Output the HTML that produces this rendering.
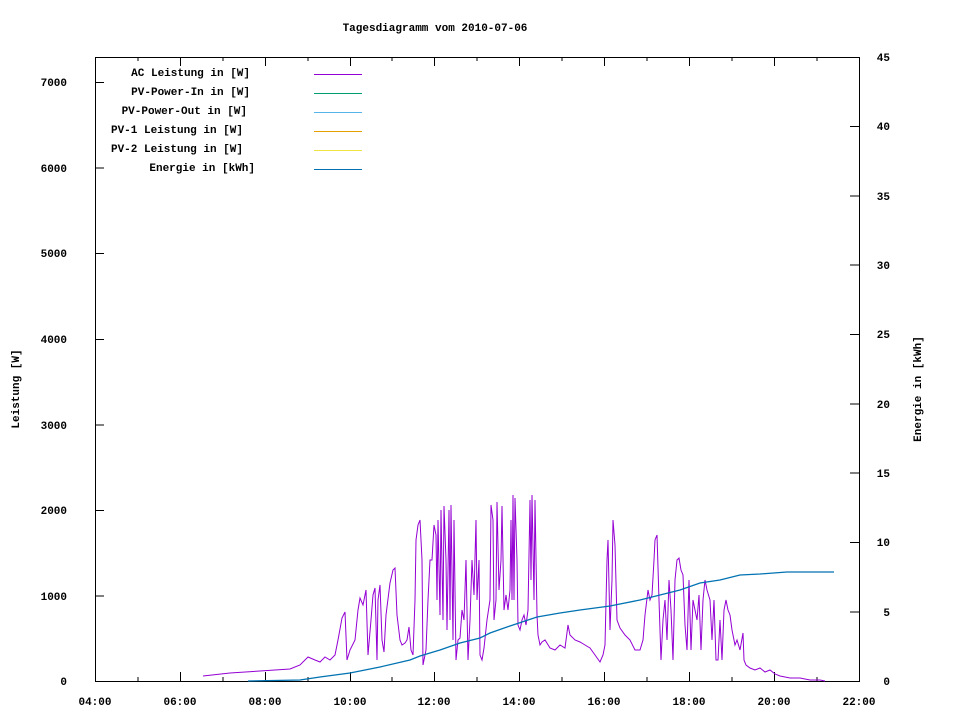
<!DOCTYPE html>
<html><head><meta charset="utf-8"><style>
body{margin:0;background:#fff;}
svg text{font-family:"Liberation Mono",monospace;font-size:11px;font-weight:bold;fill:#000;}
</style></head><body>
<svg width="960" height="720" xmlns="http://www.w3.org/2000/svg">
<rect width="960" height="720" fill="#fff"/>
<text x="435" y="31" text-anchor="middle">Tagesdiagramm vom 2010-07-06</text>
<rect x="95.5" y="57.5" width="764" height="624" fill="none" stroke="#000" stroke-width="1"/>
<g stroke="#000" stroke-width="1" id="ticks">
<path d="M95,681.5h9M95,596h9M95,510.5h9M95,425h9M95,339.5h9M95,253.5h9M95,168h9M95,82.5h9"/>
<path d="M859,681.5h-9M859,612h-9M859,542.5h-9M859,473h-9M859,404h-9M859,334.5h-9M859,265h-9M859,196h-9M859,126.5h-9M859,57.5h-9"/>
<path d="M95.5,681v-9M180.5,681v-9M265.5,681v-9M350.5,681v-9M434.5,681v-9M519.5,681v-9M604.5,681v-9M689.5,681v-9M774.5,681v-9M859.5,681v-9"/>
<path d="M138,681v-4M223,681v-4M308,681v-4M392,681v-4M477,681v-4M562,681v-4M647,681v-4M732,681v-4M817,681v-4"/>
<path d="M95.5,57v9M180.5,57v9M265.5,57v9M350.5,57v9M434.5,57v9M519.5,57v9M604.5,57v9M689.5,57v9M774.5,57v9M859.5,57v9"/>
<path d="M138,57v4M223,57v4M308,57v4M392,57v4M477,57v4M562,57v4M647,57v4M732,57v4M817,57v4"/>
</g>
<g text-anchor="end">
<text x="67" y="685">0</text><text x="67" y="600">1000</text><text x="67" y="514">2000</text><text x="67" y="429">3000</text><text x="67" y="343">4000</text><text x="67" y="257">5000</text><text x="67" y="172">6000</text><text x="67" y="86">7000</text>
</g>
<g text-anchor="end">
<text x="890" y="685">0</text><text x="890" y="616">5</text><text x="890" y="546">10</text><text x="890" y="477">15</text><text x="890" y="408">20</text><text x="890" y="338">25</text><text x="890" y="269">30</text><text x="890" y="200">35</text><text x="890" y="130">40</text><text x="890" y="61">45</text>
</g>
<g text-anchor="middle">
<text x="95" y="705">04:00</text><text x="180" y="705">06:00</text><text x="265" y="705">08:00</text><text x="350" y="705">10:00</text><text x="434" y="705">12:00</text><text x="519" y="705">14:00</text><text x="604" y="705">16:00</text><text x="689" y="705">18:00</text><text x="774" y="705">20:00</text><text x="859" y="705">22:00</text>
</g>
<text transform="translate(19,389) rotate(-90)" text-anchor="middle">Leistung [W]</text>
<text transform="translate(921,389) rotate(-90)" text-anchor="middle">Energie in [kWh]</text>
<g text-anchor="end">
<text x="250" y="76">AC Leistung in [W]</text>
<text x="250" y="95">PV-Power-In in [W]</text>
<text x="247" y="114">PV-Power-Out in [W]</text>
<text x="243" y="133">PV-1 Leistung in [W]</text>
<text x="243" y="152">PV-2 Leistung in [W]</text>
<text x="255" y="171">Energie in [kWh]</text>
</g>
<g stroke-width="1">
<path d="M314,74.5h48" stroke="#9400d3"/>
<path d="M314,93.5h48" stroke="#009e73"/>
<path d="M314,112.5h48" stroke="#56b4e9"/>
<path d="M314,131.5h48" stroke="#e69f00"/>
<path d="M314,150.5h48" stroke="#f0e442"/>
<path d="M314,169.5h48" stroke="#0072b2"/>
</g>
<polyline fill="none" stroke="#9400d3" stroke-width="1" points="203,676 230,673 260,671 290,669 300,665 308,657 315,660 320,662 325,657 330,660 335,655 338,640 342,618 345,612 347,660 350,650 355,640 358,610 360,598 363,605 366,590 368,655 371,620 373,595 375,588 377,660 378,600 380,585 382,640 384,652 386,615 390,583 393,570 395,568 397,615 400,640 402,645 405,643 407,640 409,627 411,650 413,655 415,600 416,540 418,525 420,520 422,560 423,665 426,650 428,600 430,560 432,560 434,525 436,535 437,600 438,520 440,615 441,510 443,620 444,506 446,560 447,630 449,510 450,620 451,505 453,640 454,520 456,660 458,640 460,638 462,610 464,620 466,560 468,660 470,620 472,560 474,595 476,520 477,600 479,560 480,655 482,660 484,648 487,620 490,600 491,505 493,520 494,620 496,600 497,502 499,590 501,560 502,506 504,610 506,595 508,610 510,590 511,520 512,600 513,495 514,600 515,498 517,560 518,625 520,630 522,620 524,615 526,625 528,610 530,500 531,580 532,495 534,600 535,500 537,615 538,635 540,645 542,642 545,640 550,648 555,650 560,645 565,648 568,625 570,635 575,640 580,642 585,645 590,648 595,655 600,662 603,655 605,645 607,560 608,540 610,630 612,580 613,520 615,545 617,620 620,628 625,635 630,640 635,650 640,650 643,640 645,615 648,590 650,600 652,595 654,560 655,540 657,535 659,600 661,660 663,620 665,600 667,640 669,580 671,610 673,660 675,580 677,560 679,558 681,570 683,575 685,625 687,650 689,580 691,650 693,600 695,610 697,620 699,595 701,650 703,600 705,580 707,590 710,600 712,640 714,600 716,660 718,660 720,620 722,660 724,610 726,600 728,610 730,615 732,630 735,645 737,640 740,650 743,633 744,660 746,665 750,668 755,670 760,668 765,672 770,670 775,674 780,676 790,678 800,678 810,680 820,680 825,681"/>
<polyline fill="none" stroke="#0072b2" stroke-width="1.3" points="248,681 300,680 320,677 350,673 380,667 410,660 420,656 440,650 460,643 480,638 490,633 510,626 537,617 560,613 580,610 610,606 640,600 660,595 680,590 700,583 720,580 740,575 760,574 787,572 834,572"/>
</svg>
</body></html>
